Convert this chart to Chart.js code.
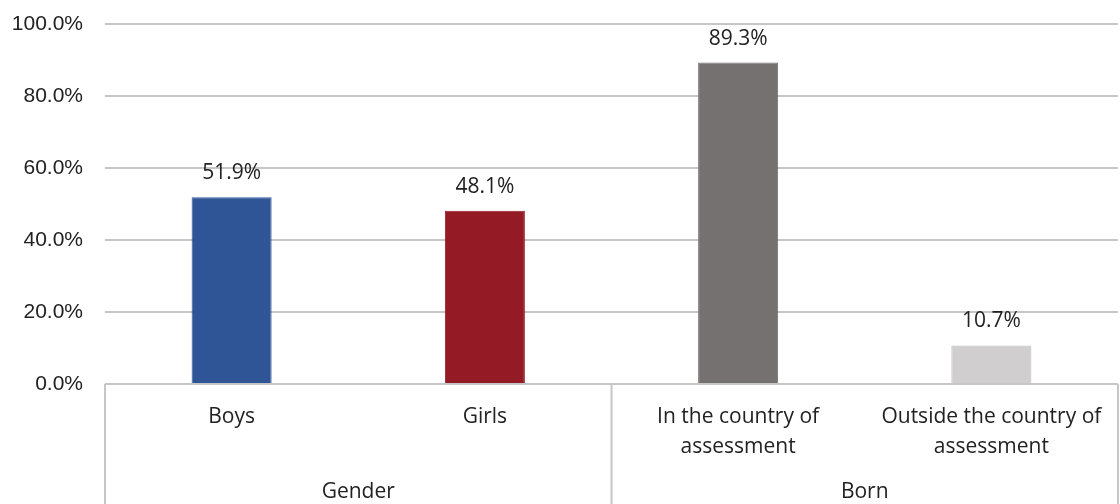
<!DOCTYPE html>
<html>
<head>
<meta charset="utf-8">
<script src="https://cdn.jsdelivr.net/npm/chart.js@4"></script>
<style>
  html, body { margin: 0; padding: 0; background: #fff; }
  #wrap { width: 1120px; height: 504px; }
</style>
</head>
<body>
<div id="wrap"><canvas id="c" width="1120" height="504"></canvas></div>
<script>
// Category labels (multi-line where wrapped)
const categories = [
  ['Boys'],
  ['Girls'],
  ['In the country of', 'assessment'],
  ['Outside the country of', 'assessment']
];
// Share of students per category (%)
const shares = [51.9, 48.1, 89.3, 10.7];
const barColors = ['#2F5597', '#941B26', '#767171', '#D0CECE'];
// Outer grouping of the categories: [label, first index, last index]
const groups = [
  ['Gender', 0, 1],
  ['Born', 2, 3]
];
const yTicks = [0, 20, 40, 60, 80, 100];

const LINE = '#C6C6C6';
const TEXT = '#222222';
const LABEL_FONT = '"Open Sans", "DejaVu Sans", sans-serif';
const LABEL_SIZE = 21;

// Draws the value above each bar
const valueLabels = {
  id: 'valueLabels',
  afterDatasetsDraw(chart) {
    const ctx = chart.ctx;
    const meta = chart.getDatasetMeta(0);
    ctx.save();
    ctx.font = LABEL_SIZE + 'px ' + LABEL_FONT;
    ctx.fillStyle = TEXT;
    ctx.textAlign = 'center';
    ctx.textBaseline = 'middle';
    meta.data.forEach((bar, i) => {
      ctx.fillText(shares[i].toFixed(1) + '%', bar.x, bar.y - 24);
    });
    ctx.restore();
  }
};

// Draws the table-style category axis with group dividers and group names
const groupAxis = {
  id: 'groupAxis',
  afterDraw(chart) {
    const ctx = chart.ctx;
    const x = chart.scales.x;
    const area = chart.chartArea;
    const bottom = chart.height + 2;
    const edge = (i) => {
      const step = x.getPixelForValue(1) - x.getPixelForValue(0);
      return x.getPixelForValue(i) - step / 2;
    };
    ctx.save();
    ctx.strokeStyle = LINE;
    ctx.lineWidth = 2;
    ctx.beginPath();
    ctx.moveTo(area.left, area.bottom);
    ctx.lineTo(area.right, area.bottom);
    const cuts = [edge(0)];
    groups.forEach(g => cuts.push(edge(g[2] + 1)));
    cuts.forEach(px => {
      ctx.moveTo(px, area.bottom);
      ctx.lineTo(px, bottom);
    });
    ctx.stroke();

    ctx.font = LABEL_SIZE + 'px ' + LABEL_FONT;
    ctx.fillStyle = TEXT;
    ctx.textAlign = 'center';
    ctx.textBaseline = 'middle';
    groups.forEach(g => {
      const cx = (edge(g[1]) + edge(g[2] + 1)) / 2;
      ctx.fillText(g[0], cx, 492);
    });
    ctx.restore();
  }
};

new Chart(document.getElementById('c'), {
  type: 'bar',
  data: {
    labels: categories,
    datasets: [{
      data: shares,
      backgroundColor: barColors,
      borderColor: ['#2F5597', '#941B26', '#767171', '#BDBBBB'],
      borderWidth: 1,
      barPercentage: 0.316,
      categoryPercentage: 1.0
    }]
  },
  options: {
    responsive: false,
    animation: false,
    devicePixelRatio: 1,
    layout: { padding: { top: 24, right: 2, left: 0, bottom: 0 } },
    plugins: {
      legend: { display: false },
      tooltip: { enabled: false }
    },
    scales: {
      x: {
        grid: { display: false },
        border: { display: false },
        ticks: {
          color: TEXT,
          font: { family: LABEL_FONT, size: LABEL_SIZE, lineHeight: 1.42 },
          padding: 10,
          maxRotation: 0,
          autoSkip: false
        },
        afterFit(scale) {
          scale.height = 120;
          scale.paddingLeft = 0; scale.paddingRight = 0;
        }
      },
      y: {
        min: 0,
        max: 100,
        afterBuildTicks(scale) { scale.ticks = yTicks.map(v => ({ value: v })); },
        grid: { color: LINE, lineWidth: 2, drawTicks: false },
        border: { display: false },
        ticks: {
          color: TEXT,
          font: { family: '"Liberation Sans", Arial, sans-serif', size: 21 },
          padding: 22,
          callback: (v) => v.toFixed(1) + '%'
        },
        afterFit(scale) {
          scale.width = 105;
          scale.paddingTop = 0; scale.paddingBottom = 0;
        }
      }
    }
  },
  plugins: [valueLabels, groupAxis]
});
</script>
</body>
</html>
